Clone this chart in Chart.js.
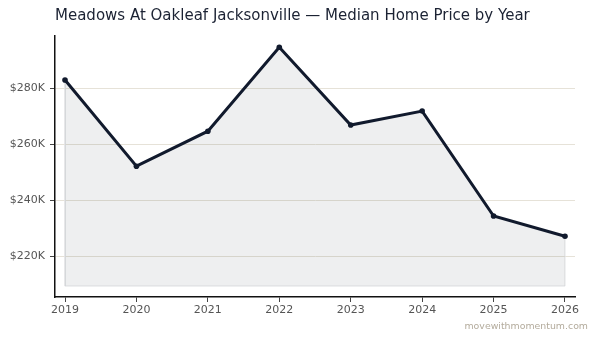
<!DOCTYPE html>
<html>
<head>
<meta charset="utf-8">
<script src="https://cdn.jsdelivr.net/npm/chart.js@4/dist/chart.umd.min.js"></script>
<style>
  html, body { margin: 0; padding: 0; background: #fff; }
  #wrap { width: 599px; height: 343px; position: relative; }
</style>
</head>
<body>
<div id="wrap"><canvas id="chart" width="599" height="343"></canvas></div>
<script>
const chartTitle = 'Meadows At Oakleaf Jacksonville — Median Home Price by Year';
const watermark = 'movewithmomentum.com';
const years = [2019, 2020, 2021, 2022, 2023, 2024, 2025, 2026];
const prices = [282900, 252100, 264600, 294600, 266800, 271800, 234300, 227100];
const yTicks = [220000, 240000, 260000, 280000];
const fillBase = 209300;

const font = "'DejaVu Sans', sans-serif";

// title + watermark drawn at chart area positions
const textPlugin = {
    id: 'texts',
    afterDraw(chart) {
        const c = chart.ctx;
        c.save();
        c.fillStyle = '#1b2233';
        c.font = "15px " + font;
        c.textBaseline = 'middle';
        c.textAlign = 'left';
        c.fillText(chartTitle, chart.chartArea.left, 16);
        c.fillStyle = '#b3ab9c';
        c.font = "9.4px " + font;
        c.textAlign = 'right';
        c.fillText(watermark, 588, 327);
        c.restore();
    }
};

const ctx = document.getElementById('chart').getContext('2d');
new Chart(ctx, {
    type: 'line',
    data: {
        datasets: [
            {
                // outline of the shaded area
                data: [
                    { x: years[0], y: prices[0] },
                    { x: years[0], y: fillBase },
                    { x: years[years.length - 1], y: fillBase },
                    { x: years[years.length - 1], y: prices[prices.length - 1] }
                ],
                borderColor: '#e2e3e5',
                borderWidth: 1,
                pointRadius: 0,
                fill: false,
                order: 2
            },
            {
                data: years.map((y, i) => ({ x: y, y: prices[i] })),
                borderColor: '#111a2d',
                backgroundColor: 'rgba(17,26,45,0.07)',
                borderWidth: 3,
                pointRadius: 2.8,
                pointBackgroundColor: '#111a2d',
                pointBorderWidth: 0,
                tension: 0,
                fill: { value: fillBase },
                order: 1
            }
        ]
    },
    options: {
        responsive: false,
        animation: false,
        layout: { padding: { top: 36, right: 24, bottom: 20, left: 0 } },
        plugins: {
            legend: { display: false },
            tooltip: { enabled: false }
        },
        scales: {
            x: {
                type: 'linear',
                min: 2018.86,
                max: 2026.14,
                afterBuildTicks: (s) => { s.ticks = years.map(v => ({ value: v })); },
                afterFit: (s) => { s.height = 26; },
                grid: { drawOnChartArea: false, tickLength: 5, tickColor: '#444' },
                border: { display: true, color: '#111', width: 1.5 },
                ticks: {
                    color: '#555',
                    font: { family: font, size: 11 },
                    padding: 2,
                    maxRotation: 0,
                    callback: (v) => String(v)
                }
            },
            y: {
                min: 205400,
                max: 298600,
                afterBuildTicks: (s) => { s.ticks = yTicks.map(v => ({ value: v })); },
                afterFit: (s) => { s.width = 55; },
                grid: { color: '#e6e2d8', lineWidth: 1, tickLength: 5, tickColor: '#444' },
                border: { display: true, color: '#111', width: 1.5 },
                ticks: {
                    color: '#555',
                    font: { family: font, size: 11 },
                    padding: 5,
                    callback: (v) => '$' + Math.round(v / 1000) + 'K'
                }
            }
        }
    },
    plugins: [textPlugin]
});
</script>
</body>
</html>
